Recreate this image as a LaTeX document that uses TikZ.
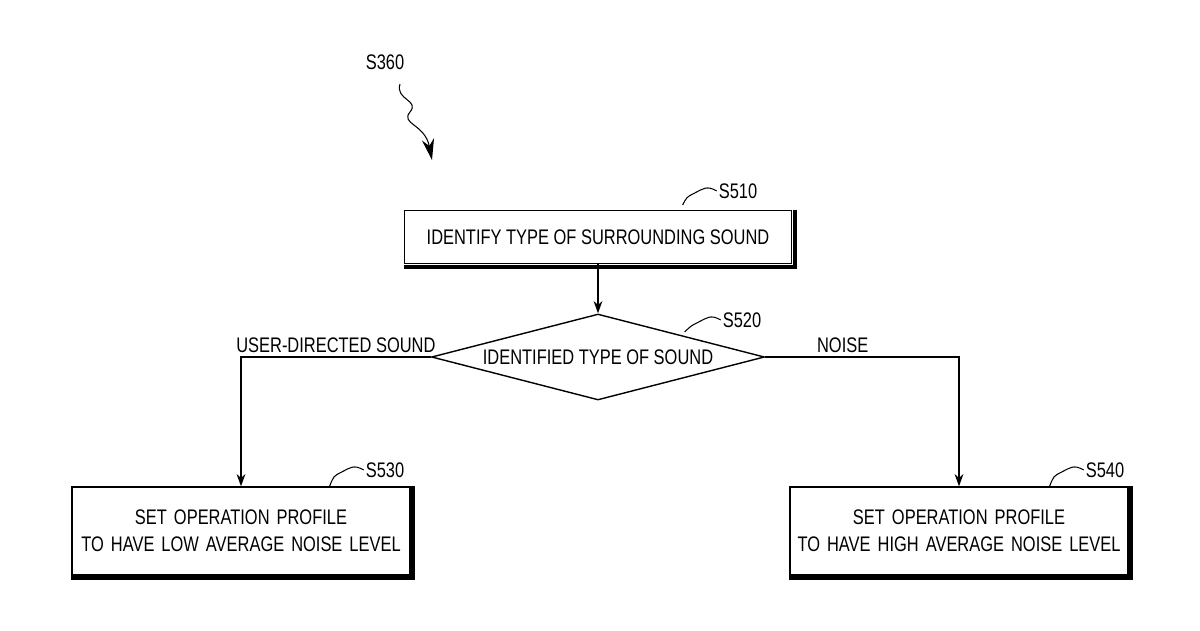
\documentclass[tikz,border=0pt]{standalone}
\usepackage{fontspec}
\setmainfont{Liberation Sans}[FakeStretch=0.78]
\usetikzlibrary{shapes.geometric,arrows.meta}
\begin{document}
\begin{tikzpicture}[x=0.02cm,y=-0.02cm,font=\fontsize{12}{15.5}\selectfont]

      \tikzset{box/.style={draw, line width=0.8pt, align=center, inner sep=0pt},
               shadow/.style={line width=2.2pt},
               flow/.style={draw, line width=0.8pt, -{Stealth[length=7pt,width=5pt]}},
               tag/.style={inner sep=1pt}}
      \useasboundingbox (0,0) rectangle (1200,630);
%% Steps
      	\node[box, minimum width=7.74cm, minimum height=1.05cm] (s510) at (598,237) {IDENTIFY TYPE OF SURROUNDING SOUND};
      	\node[box, diamond, aspect=3.9, minimum width=6.66cm, minimum height=1.72cm] (s520) at (598,357) {};
      	\node at (598,357) {IDENTIFIED TYPE OF SOUND};
      	\node[box, text width=6.76cm, minimum height=1.76cm] (s530) at (241,531) {SET OPERATION PROFILE\\TO HAVE LOW AVERAGE NOISE LEVEL};
      	\node[box, text width=6.76cm, minimum height=1.76cm] (s540) at (959,531) {SET OPERATION PROFILE\\TO HAVE HIGH AVERAGE NOISE LEVEL};
%Shadows
      	\foreach \n in {s510,s530,s540}
      		\draw[shadow] ([xshift=1.5pt]\n.north east) -- ([xshift=1.5pt,yshift=-1.5pt]\n.south east) -- ([yshift=-1.5pt]\n.south west);
%Labels
      	\node[tag] (t360) at (385,62) {S360};
      	\node[tag] (t510) at (738,191) {S510};
      	\node[tag] (t520) at (742,320) {S520};
      	\node[tag] (t530) at (385,470) {S530};
      	\node[tag] (t540) at (1105,470) {S540};
%Leaders
      	\draw[line width=0.6pt] (t510.west) .. controls +(-10,-6) and +(8,-4) .. ++(-22,2) .. controls +(-8,4) .. ++(-12,12);
      	\draw[line width=0.6pt] (t520.west) .. controls +(-10,-6) and +(8,-4) .. ++(-22,2) .. controls +(-8,4) .. ++(-14,10);
      	\draw[line width=0.6pt] (t530.west) .. controls +(-10,-6) and +(8,-4) .. ++(-22,2) .. controls +(-8,4) .. ++(-12,14);
      	\draw[line width=0.6pt] (t540.west) .. controls +(-10,-6) and +(8,-4) .. ++(-22,2) .. controls +(-8,4) .. ++(-12,14);
      	\coordinate (c360) at (432,160);
      	\draw[line width=0.6pt, -{Stealth[length=12pt,width=7pt]}] (400,84) .. controls (395,100) and (420,100) .. (410,112) .. controls (400,124) and (425,124) .. (c360);
%Edges
		\draw[flow] (s510) -- (s520);
		\draw[flow] (s520.west) -| node[pos=0.25, above, inner sep=2pt] {USER-DIRECTED SOUND} (s530.north);
		\draw[flow] (s520.east) -| node[pos=0.2, above, inner sep=2pt] {NOISE} (s540.north);

	\end{tikzpicture}
\end{document}
